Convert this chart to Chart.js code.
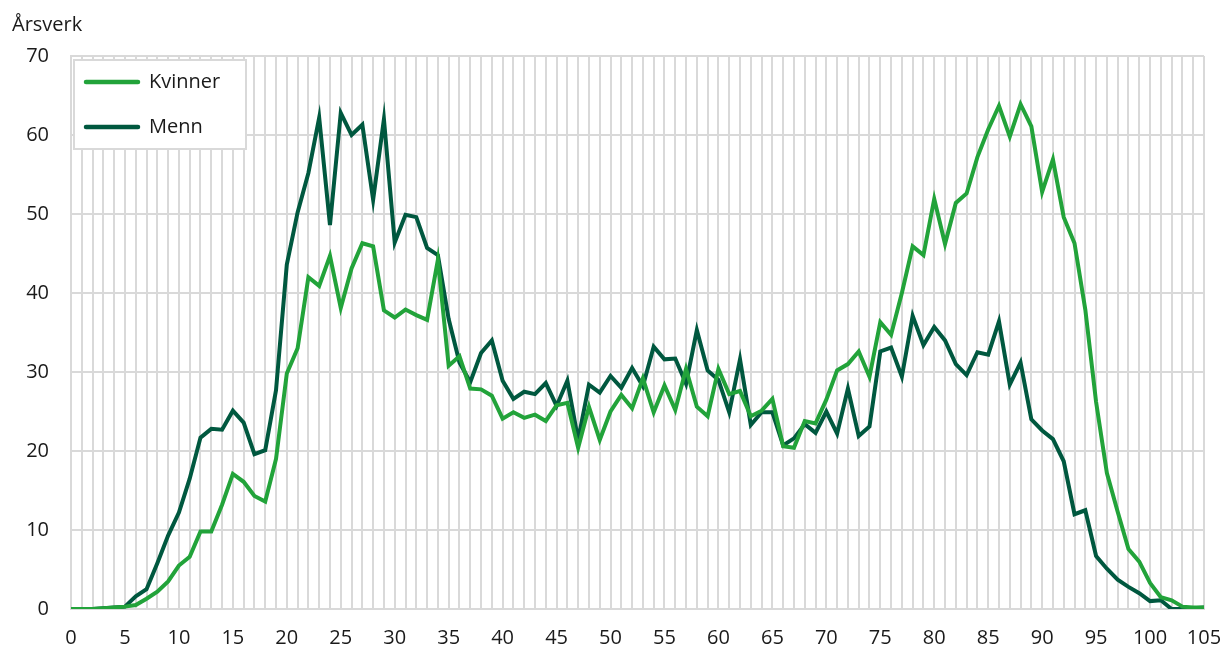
<!DOCTYPE html>
<html>
<head>
<meta charset="utf-8">
<script src="https://cdn.jsdelivr.net/npm/chart.js@4/dist/chart.umd.min.js"></script>
<style>
  html, body { margin: 0; padding: 0; background: #fff; }
  #wrap { width: 1226px; height: 651px; }
</style>
</head>
<body>
<div id="wrap"><canvas id="chart" width="1226" height="651"></canvas></div>
<script>
// ages 0..105 on the x axis
const ages = Array.from({ length: 106 }, (_, i) => i);

const kvinner = [
  0, 0, 0, 0.1, 0.2, 0.3, 0.5, 1.3, 2.2, 3.5,
  5.5, 6.6, 9.8, 9.8, 13.2, 17.1, 16.1, 14.3, 13.6, 19.0,
  29.8, 33.0, 42.0, 40.9, 44.7, 38.1, 43.1, 46.3, 45.9, 37.8,
  36.9, 37.9, 37.2, 36.6, 44.2, 30.8, 32.0, 27.9, 27.8, 27.0,
  24.1, 24.9, 24.2, 24.6, 23.8, 25.8, 26.1, 20.4, 25.6, 21.4,
  25.0, 27.1, 25.4, 29.2, 24.9, 28.3, 25.2, 30.4, 25.6, 24.4,
  30.4, 27.2, 27.6, 24.4, 25.1, 26.6, 20.6, 20.4, 23.8, 23.5,
  26.5, 30.2, 31.0, 32.6, 29.4, 36.3, 34.7, 40.0, 45.9, 44.8,
  51.9, 46.2, 51.4, 52.6, 57.2, 60.7, 63.7, 59.8, 63.9, 61.1,
  52.8, 56.9, 49.6, 46.3, 37.9, 26.2, 17.2, 12.3, 7.6, 6.0,
  3.3, 1.5, 1.1, 0.3, 0.2, 0.2
];

const menn = [
  0, 0, 0, 0.1, 0.2, 0.3, 1.6, 2.5, 5.8, 9.3,
  12.2, 16.5, 21.7, 22.8, 22.7, 25.1, 23.6, 19.6, 20.1, 27.7,
  43.6, 50.2, 55.2, 62.2, 48.6, 62.8, 60.0, 61.3, 51.8, 62.0,
  46.4, 49.9, 49.6, 45.7, 44.8, 36.7, 31.2, 28.7, 32.4, 34.0,
  28.9, 26.6, 27.5, 27.2, 28.6, 25.7, 28.9, 21.4, 28.4, 27.4,
  29.5, 28.0, 30.5, 28.2, 33.2, 31.6, 31.7, 28.5, 35.3, 30.2,
  29.0, 24.9, 31.6, 23.3, 24.9, 24.9, 20.7, 21.6, 23.4, 22.3,
  25.0, 22.2, 27.9, 21.9, 23.1, 32.6, 33.1, 29.4, 37.1, 33.4,
  35.7, 34.0, 31.0, 29.6, 32.5, 32.2, 36.4, 28.4, 31.2, 24.0,
  22.6, 21.5, 18.7, 12.0, 12.5, 6.7, 5.1, 3.7, 2.8, 2.0,
  1.0, 1.1, 0.0, 0.0, 0.1, 0.2
];

const seriesNames = ['Kvinner', 'Menn'];
const seriesColors = ['#22a33a', '#00583f'];
const yTitle = 'Årsverk';

const gridColor = '#d9d9d9';
const textColor = '#1a1a1a';
const fontFamily = "'Open Sans', 'Noto Sans', sans-serif";

Chart.defaults.font.family = fontFamily;
Chart.defaults.font.size = 20;
Chart.defaults.color = textColor;

// legend box inside the plot, top left, plus the y axis title
const boxLegend = {
  id: 'boxLegend',
  afterDraw(chart) {
    const ctx = chart.ctx;
    const area = chart.chartArea;
    const x = area.left + 3;
    const y = area.top + 4;
    ctx.save();
    ctx.fillStyle = '#fff';
    ctx.fillRect(x, y, 172, 89);
    ctx.strokeStyle = gridColor;
    ctx.lineWidth = 2;
    ctx.strokeRect(x, y, 172, 89);
    ctx.font = '20px ' + fontFamily;
    ctx.textBaseline = 'middle';
    chart.data.datasets.forEach((ds, i) => {
      const ly = y + 22 + i * 45;
      ctx.strokeStyle = ds.borderColor;
      ctx.lineWidth = 4.5;
      ctx.lineCap = 'round';
      ctx.beginPath();
      ctx.moveTo(x + 12, ly);
      ctx.lineTo(x + 64, ly);
      ctx.stroke();
      ctx.fillStyle = textColor;
      ctx.fillText(ds.label, x + 75, ly);
    });
    ctx.fillStyle = textColor;
    ctx.textBaseline = 'middle';
    ctx.fillText(yTitle, 12, 25);
    ctx.restore();
  }
};

new Chart(document.getElementById('chart'), {
  type: 'line',
  data: {
    labels: ages,
    datasets: [
      {
        label: seriesNames[0],
        data: kvinner,
        borderColor: seriesColors[0],
        backgroundColor: seriesColors[0],
        borderWidth: 4,
        pointRadius: 0,
        tension: 0
      },
      {
        label: seriesNames[1],
        data: menn,
        borderColor: seriesColors[1],
        backgroundColor: seriesColors[1],
        borderWidth: 4,
        pointRadius: 0,
        tension: 0
      }
    ]
  },
  options: {
    responsive: false,
    animation: false,
    layout: { padding: { top: 56, right: 22, left: 0, bottom: 0 } },
    plugins: {
      legend: { display: false },
      tooltip: { enabled: false }
    },
    scales: {
      x: {
        offset: false,
        grid: { color: gridColor, lineWidth: 2, drawTicks: false },
        border: { color: gridColor, width: 2 },
        ticks: {
          autoSkip: false,
          maxRotation: 0,
          padding: 17,
          callback: (val, idx) => (idx % 5 === 0 ? ages[idx] : '')
        },
        afterFit: (scale) => {
          scale.height = 42;
          scale.paddingLeft = 0;
          scale.paddingRight = 0;
        }
      },
      y: {
        min: 0,
        max: 70,
        grid: { color: gridColor, lineWidth: 2, drawTicks: false },
        border: { color: gridColor, width: 2 },
        ticks: { stepSize: 10, padding: 22 },
        afterFit: (scale) => {
          scale.width = 71;
          scale.paddingTop = 0;
          scale.paddingBottom = 0;
        }
      }
    }
  },
  plugins: [boxLegend]
});
</script>
</body>
</html>
